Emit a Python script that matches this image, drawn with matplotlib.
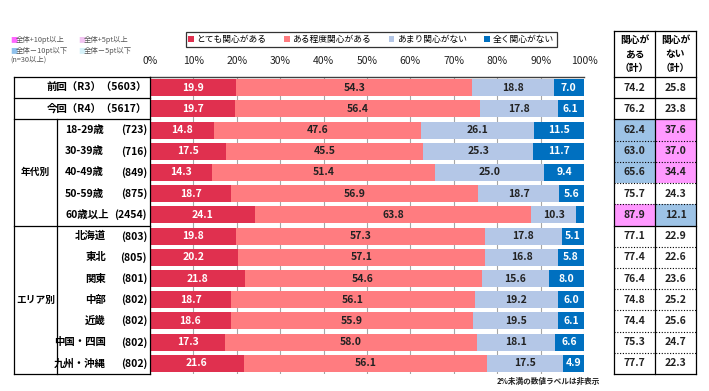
import numpy as np
import matplotlib
matplotlib.use("Agg")
import matplotlib.pyplot as plt
from matplotlib.patches import Patch

plt.rcParams['font.family'] = ['Noto Sans CJK JP', 'DejaVu Sans']

# rows
names = ['前回（R3）', '今回（R4）', '18-29歳', '30-39歳', '40-49歳', '50-59歳', '60歳以上',
         '北海道', '東北', '関東', '中部', '近畿', '中国・四国', '九州・沖縄']
n_resp = [5603, 5617, 723, 716, 849, 875, 2454, 803, 805, 801, 802, 802, 802, 802]
kind = ['total', 'total'] + ['age'] * 5 + ['area'] * 7

very = [19.9, 19.7, 14.8, 17.5, 14.3, 18.7, 24.1, 19.8, 20.2, 21.8, 18.7, 18.6, 17.3, 21.6]
some = [54.3, 56.4, 47.6, 45.5, 51.4, 56.9, 63.8, 57.3, 57.1, 54.6, 56.1, 55.9, 58.0, 56.1]
notmuch = [18.8, 17.8, 26.1, 25.3, 25.0, 18.7, 10.3, 17.8, 16.8, 15.6, 19.2, 19.5, 18.1, 17.5]
none = [7.0, 6.1, 11.5, 11.7, 9.4, 5.6, 1.8, 5.1, 5.8, 8.0, 6.0, 6.1, 6.6, 4.9]

interested = [74.2, 76.2, 62.4, 63.0, 65.6, 75.7, 87.9, 77.1, 77.4, 76.4, 74.8, 74.4, 75.3, 77.7]
not_interested = [25.8, 23.8, 37.6, 37.0, 34.4, 24.3, 12.1, 22.9, 22.6, 23.6, 25.2, 25.6, 24.7, 22.3]
# highlight: p = +10pt or more, b = -10pt or less
hl_int = ['', '', 'b', 'b', 'b', '', 'p', '', '', '', '', '', '', '']
hl_not = ['', '', 'p', 'p', 'p', '', 'b', '', '', '', '', '', '', '']

series_names = ['とても関心がある', 'ある程度関心がある', 'あまり関心がない', '全く関心がない']
series_colors = ['#E0304F', '#FF7C80', '#B4C7E7', '#0070C0']
label_colors = ['white', '#222222', '#222222', 'white']
hl_colors = {'p': '#FF99FF', 'b': '#9DC3E6', '': 'white'}

W, Hpx = 709, 391
fig = plt.figure(figsize=(W / 100, Hpx / 100), dpi=100)

top_px, bot_px = 77, 374
row_h = (bot_px - top_px) / len(names)

def rect(x0, x1):
    return [x0 / W, 1 - bot_px / Hpx, (x1 - x0) / W, (bot_px - top_px) / Hpx]

ax = fig.add_axes(rect(150, 584))
y = np.arange(len(names))
left = np.zeros(len(names))
for vals, c, lc in zip([very, some, notmuch, none], series_colors, label_colors):
    vals = np.array(vals)
    ax.barh(y, vals, left=left, height=0.8, color=c, zorder=2)
    for yi, (l, v) in enumerate(zip(left, vals)):
        if v >= 2:
            ax.text(l + v / 2, yi, f'{v:.1f}', ha='center', va='center',
                    color=lc, fontsize=7.5, fontweight='bold', zorder=3)
    left += vals

ax.set_xlim(0, 100)
ax.set_ylim(len(names) - 0.5, -0.5)
ax.set_xticks(np.arange(0, 101, 10))
ax.set_xticklabels([f'{t}%' for t in range(0, 101, 10)])
ax.xaxis.tick_top()
ax.tick_params(axis='x', length=0, pad=8, labelsize=7.5, colors='#222222')
ax.set_yticks([])
ax.grid(axis='x', color='#A6A6A6', lw=0.8, zorder=0)
for s in ['left', 'right', 'bottom']:
    ax.spines[s].set_visible(False)
ax.spines['top'].set_color('#404040')
ax.spines['top'].set_linewidth(1.0)

# left table
lt = fig.add_axes(rect(14, 150), sharey=ax)
lt.set_xlim(14, 150)
lt.axis('off')
lw = 0.9
for b in [-0.5, 0.5, 1.5, 6.5, 13.5]:
    lt.plot([14, 150], [b, b], color='black', lw=lw, clip_on=False)
for xv in [14, 150]:
    lt.plot([xv, xv], [-0.5, 13.5], color='black', lw=lw, clip_on=False)
lt.plot([57, 57], [1.5, 13.5], color='black', lw=lw, clip_on=False)
fs = 7.5
for i, (nm, n, k) in enumerate(zip(names, n_resp, kind)):
    if k == 'total':
        lt.text(147, i, f'{nm}（{n}）', ha='right', va='center', fontsize=fs, fontweight='bold')
    elif k == 'age':
        lt.text(65, i, nm, ha='left', va='center', fontsize=fs, fontweight='bold')
        lt.text(147, i, f'({n})', ha='right', va='center', fontsize=fs, fontweight='bold')
    else:
        lt.text(106, i, nm, ha='right', va='center', fontsize=fs, fontweight='bold')
        lt.text(147, i, f'({n})', ha='right', va='center', fontsize=fs, fontweight='bold')
lt.text(35.5, 4, '年代別', ha='center', va='center', fontsize=7, fontweight='bold')
lt.text(35.5, 10, 'エリア別', ha='center', va='center', fontsize=7, fontweight='bold')

# right table
rt = fig.add_axes(rect(614, 696), sharey=ax)
rt.set_xlim(0, 2)
rt.axis('off')
for col, (vals, hl) in enumerate([(interested, hl_int), (not_interested, hl_not)]):
    rt.barh(y, 1, left=col, height=1, align='center',
            color=[hl_colors[h] for h in hl], zorder=1)
    for i, v in enumerate(vals):
        rt.text(col + 0.5, i, f'{v:.1f}', ha='center', va='center',
                fontsize=7.5, fontweight='bold', color='#222222', zorder=3)
hdr_top = -0.5 - (top_px - 31) / row_h
for b in [hdr_top, -0.5, 0.5, 1.5, 6.5, 13.5]:
    rt.plot([0, 2], [b, b], color='black', lw=lw, clip_on=False, zorder=4)
for b in [2.5, 3.5, 4.5, 5.5, 7.5, 8.5, 9.5, 10.5, 11.5, 12.5]:
    rt.plot([0, 2], [b, b], color='black', lw=0.8, ls=(0, (1, 1.5)), clip_on=False, zorder=4)
for xv in [0, 1, 2]:
    rt.plot([xv, xv], [hdr_top, 13.5], color='black', lw=lw, clip_on=False, zorder=4)
hdr_mid = (hdr_top - 0.5) / 2
rt.text(0.5, hdr_mid, '関心が\nある\n（計）', ha='center', va='center', fontsize=7,
        fontweight='bold', linespacing=1.45, clip_on=False)
rt.text(1.5, hdr_mid, '関心が\nない\n（計）', ha='center', va='center', fontsize=7,
        fontweight='bold', linespacing=1.45, clip_on=False)

# series legend
handles = [Patch(facecolor=c, edgecolor='none') for c in series_colors]
leg = fig.legend(handles, series_names, loc='center', ncol=4,
                 bbox_to_anchor=(371 / W, 1 - 39.5 / Hpx), fontsize=6.3,
                 frameon=True, fancybox=False, edgecolor='black',
                 handlelength=0.65, handleheight=0.65, handletextpad=0.3,
                 columnspacing=2.0, borderpad=0.3, borderaxespad=0)
leg.get_frame().set_linewidth(0.9)

# highlight key (top-left)
key_labels = ['全体+10pt以上', '全体+5pt以上', '全体－10pt以下', '全体－5pt以下']
key_colors = ['#FF66FF', '#F2C4F2', '#8FC1EC', '#D6F2FA']
key_pos = [(10, 40), (78, 40), (10, 51), (78, 51)]
for lab, c, (kx, ky) in zip(key_labels, key_colors, key_pos):
    fig.text(kx / W, 1 - ky / Hpx, '■', color=c, fontsize=5.3, va='center')
    fig.text((kx + 6) / W, 1 - ky / Hpx, lab, color='#555555', fontsize=5.3, va='center')
fig.text(10 / W, 1 - 60 / Hpx, '(n=30以上)', color='#555555', fontsize=5.3, va='center')

fig.text(600 / W, 1 - 381 / Hpx, '2%未満の数値ラベルは非表示', ha='right', va='center',
         fontsize=5.5, fontweight='bold', color='#222222')

fig.savefig('out.png', dpi=100)
